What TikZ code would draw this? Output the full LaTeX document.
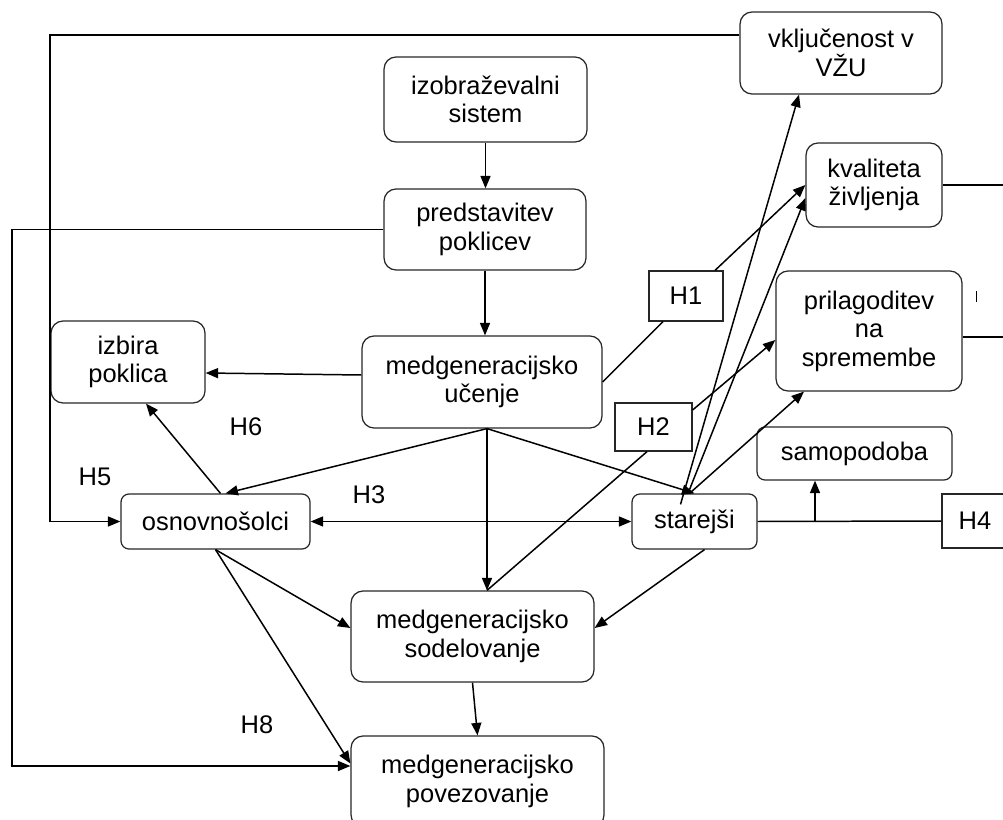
\documentclass[tikz,border=0pt]{standalone}
\usepackage{fontspec}
\setmainfont{Liberation Sans}
\usetikzlibrary{arrows.meta}

\begin{document}
\begin{tikzpicture}[x=0.02cm,y=0.02cm,line width=0.85pt,
  font=\fontsize{14.5}{16.2}\selectfont,
  >={Triangle[length=2.5mm,width=2mm]},
  box/.style={draw=black!85,rounded corners=0.24cm,align=center,inner sep=0pt,line width=0.7pt},
  hbox/.style={draw=black!85,align=center,inner sep=0pt,line width=0.7pt}]
  \useasboundingbox (0,0) rectangle (1003,-820);
  \clip (0,0) rectangle (1003,-820);
  % boxes
  \node[box,minimum width=4.04cm,minimum height=1.64cm] (vkl) at (841,-53) {vključenost v\\VŽU};
  \node[box,minimum width=4.06cm,minimum height=1.7cm] (izo) at (485.5,-99.5) {izobraževalni\\sistem};
  \node[box,minimum width=4.04cm,minimum height=1.62cm] (pred) at (485,-229.5) {predstavitev\\poklicev};
  \node[box,minimum width=2.72cm,minimum height=1.68cm] (kval) at (874,-185) {kvaliteta\\življenja};
  \node[box,minimum width=3.72cm,minimum height=2.4cm] (pril) at (869,-331) {prilagoditev\\na\\spremembe};
  \node[box,minimum width=3.08cm,minimum height=1.64cm] (izb) at (128,-362) {izbira\\poklica};
  \node[box,minimum width=4.8cm,minimum height=1.84cm] (uc) at (482,-382) {medgeneracijsko\\učenje};
  \node[box,rounded corners=0.16cm,minimum width=3.9cm,minimum height=1.06cm] (samo) at (854.5,-453.5) {samopodoba};
  \node[box,rounded corners=0.16cm,minimum width=3.78cm,minimum height=1.1cm] (osn) at (215.5,-521.5) {osnovnošolci};
  \node[box,rounded corners=0.16cm,minimum width=2.5cm,minimum height=1.1cm] (star) at (694.5,-521.5) {starejši};
  \node[box,minimum width=4.86cm,minimum height=1.82cm] (sod) at (472.5,-636.5) {medgeneracijsko\\sodelovanje};
  \node[box,minimum width=5.06cm,minimum height=1.82cm] (pov) at (477.5,-781.5) {medgeneracijsko\\povezovanje};
  % hypotheses
  \node[hbox,minimum width=1.48cm,minimum height=1cm] (h1) at (686,-296) {H1};
  \node[hbox,minimum width=1.54cm,minimum height=0.96cm] (h2) at (653.5,-427) {H2};
  \node[hbox,minimum width=1.32cm,minimum height=1.08cm] (h4) at (975,-521) {H4};
  \node (h3) at (369,-495) {H3};
  \node (h5) at (95,-477) {H5};
  \node (h6) at (246,-427) {H6};
  \node (h8) at (257,-725) {H8};
  \coordinate (ucb) at ([xshift=0.1cm]uc.south);
  \coordinate (topleft) at (50,-35);
  \coordinate (farleft) at (12,-766);
  \coordinate (fork) at (815,-521);
  % connectors
  \draw[->] (vkl.west |- topleft) -- (topleft) |- (osn.west);
  \draw[->] (pred.west) -| (farleft) -- (farleft -| pov.west);
  \draw (kval.east) -- ++(80,0);
  \draw ([yshift=-0.12cm]pril.east) -- ++(60,0);
  \draw[line width=0.5pt] (976,-291) -- (976,-302);
  \draw[->] (izo) -- (izo |- pred.north);
  \draw[->] (pred) -- (pred |- uc.north);
  \draw[->] ([yshift=0.14cm]uc.west) -- ([yshift=-0.22cm]izb.east);
  \draw[->] (ucb) -- ([xshift=0.2cm]osn.north);
  \draw[->] (ucb) -- (star.north);
  \draw[->] (ucb) -- (ucb |- sod.north);
  \draw[->] ([xshift=0.1cm]osn.north) -- ([xshift=0.36cm]izb.south);
  \draw[<->] (osn) -- (star);
  \draw[->] (osn.south) -- ([yshift=0.17cm]sod.west);
  \draw[->] (osn.south) -- ([yshift=0.36cm]pov.west);
  \draw[->] (sod.south) -- (pov.north);
  \draw[->] ([xshift=0.2cm]star.south) -- ([yshift=0.17cm]sod.east);
  \draw ([xshift=-0.13cm]h2.south) -- (ucb |- sod.north);
  \draw[->] ([yshift=0.34cm]h2.east) -- ([yshift=-0.18cm]pril.west);
  \draw[->] ([xshift=-0.1cm]star.north) -- ([xshift=-1.3cm]pril.south);
  \draw[->] ([xshift=-0.28cm,yshift=-0.22cm]star.north) -- ([xshift=-0.84cm]vkl.south);
  \draw[->] ([xshift=-0.13cm]star.north) -- ([yshift=-0.26cm]kval.west);
  \draw (uc.east) -- ([xshift=-0.46cm]h1.south);
  \draw[->] ([xshift=0.58cm]h1.north) -- (kval.west);
  \draw (star.east) -- (h4.west);
  \draw[->] (fork) -- (fork |- samo.south);
\end{tikzpicture}
\end{document}
